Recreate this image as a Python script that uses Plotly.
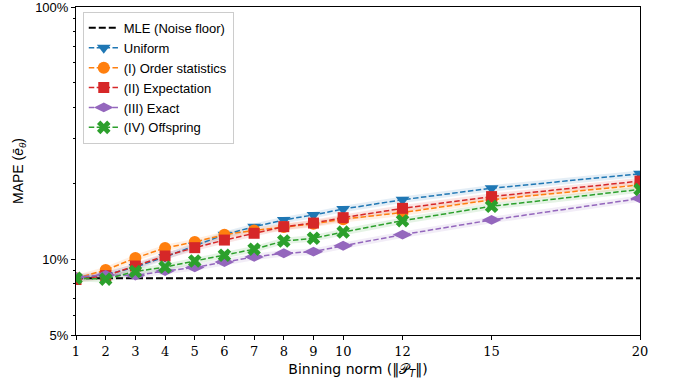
import plotly.graph_objects as go

# ---- data (MAPE in %) ----
binning_norm = [1, 2, 3, 4, 5, 6, 7, 8, 9, 10, 12, 15, 20]
mle_x = [1, 20]
mle_y = [8.4, 8.4]

uniform      = [8.4, 8.65, 9.3, 10.2, 11.3, 12.5, 13.45, 14.3, 14.97, 15.8, 17.2, 19.1, 21.8]
order_stats  = [8.4, 9.05, 10.1, 11.07, 11.7, 12.5, 13.0, 13.4, 13.8, 14.4, 15.3, 17.2, 19.7]
expectation  = [8.3, 8.6, 9.39, 10.29, 11.1, 11.9, 12.66, 13.45, 13.9, 14.6, 15.9, 17.7, 20.4]
exact        = [8.5, 8.65, 8.61, 8.97, 9.27, 9.74, 10.2, 10.55, 10.7, 11.3, 12.5, 14.3, 17.4]
offspring    = [8.4, 8.33, 8.93, 9.3, 9.83, 10.36, 10.95, 11.8, 12.1, 12.8, 14.2, 16.2, 18.9]

band_rel = 0.03  # relative half-width of shaded uncertainty band

x_ticks = [1, 2, 3, 4, 5, 6, 7, 8, 9, 10, 12, 15, 20]
y_ticks = [5, 10, 100]
y_ticklabels = ["5%", "10%", "100%"]
y_minor = [6, 7, 8, 9, 20, 30, 40, 50, 60, 70, 80, 90]

series = [
    ("Uniform", uniform, "#1f77b4", "rgba(31,119,180,0.12)", "triangle-down", 12),
    ("(I) Order statistics", order_stats, "#ff7f0e", "rgba(255,127,14,0.12)", "circle", 12),
    ("(II) Expectation", expectation, "#d62728", "rgba(214,39,40,0.12)", "square", 11),
    ("(III) Exact", exact, "#9467bd", "rgba(148,103,189,0.12)", "diamond-wide", 14),
    ("(IV) Offspring", offspring, "#2ca02c", "rgba(44,160,44,0.12)", "x", 12),
]

fig = go.Figure()

# bands first
for name, ys, col, fillc, sym, sz in series:
    upper = [v * (1 + band_rel) for v in ys]
    lower = [v * (1 - band_rel) for v in ys]
    fig.add_trace(go.Scatter(x=binning_norm, y=upper, mode="lines", line=dict(width=0),
                             showlegend=False, hoverinfo="skip"))
    fig.add_trace(go.Scatter(x=binning_norm, y=lower, mode="lines", line=dict(width=0),
                             fill="tonexty", fillcolor=fillc, showlegend=False, hoverinfo="skip"))

fig.add_trace(go.Scatter(x=mle_x, y=mle_y, mode="lines", name="MLE (Noise floor)",
                         line=dict(color="black", width=2, dash="7px,3px")))

for name, ys, col, fillc, sym, sz in series:
    fig.add_trace(go.Scatter(x=binning_norm, y=ys, mode="lines+markers", name=name,
                             line=dict(color=col, width=1.5, dash="5.5px,2.4px"),
                             marker=dict(symbol=sym, size=sz, color=col, line=dict(width=0))))

fig.update_layout(
    width=676, height=386,
    margin=dict(l=76, r=36, t=7, b=51),
    paper_bgcolor="white", plot_bgcolor="white",
    font=dict(family="Liberation Sans", size=13, color="black"),
    showlegend=True,
    legend=dict(x=0.012, y=0.985, xanchor="left", yanchor="top", traceorder="normal",
                bgcolor="rgba(255,255,255,0.85)", bordercolor="#cccccc", borderwidth=1,
                font=dict(size=13, family="Liberation Sans"), tracegroupgap=0, itemwidth=30),
)

fig.update_xaxes(
    range=[1, 20], tickmode="array", tickvals=x_ticks, ticks="outside", ticklen=4,
    tickcolor="black", showline=True, linecolor="black", linewidth=1, mirror=True,
    showgrid=False, zeroline=False, ticklabeloverflow="allow", automargin=False,
    tickfont=dict(family="DejaVu Serif", size=13),
    title=dict(text="Binning norm (‖𝒫<sub><i>T</i></sub>‖)",
               font=dict(size=14, family="DejaVu Sans"), standoff=6),
)
fig.update_yaxes(
    type="log", range=[0.69897, 2], tickmode="array", tickvals=y_ticks, ticktext=y_ticklabels,
    ticks="outside", ticklen=4, tickcolor="black", showline=True, linecolor="black",
    linewidth=1, mirror=True, showgrid=False, zeroline=False, ticklabeloverflow="allow",
    automargin=False,
    minor=dict(tickvals=y_minor, ticks="outside", ticklen=2.5, tickcolor="black", showgrid=False),
    tickfont=dict(size=13),
    title=dict(text="MAPE (<i>ē<sub>θ</sub></i>)", font=dict(size=14), standoff=8),
)

fig.write_html("out.html", config={"displayModeBar": False},
               post_script="document.body.style.margin='0px';")
